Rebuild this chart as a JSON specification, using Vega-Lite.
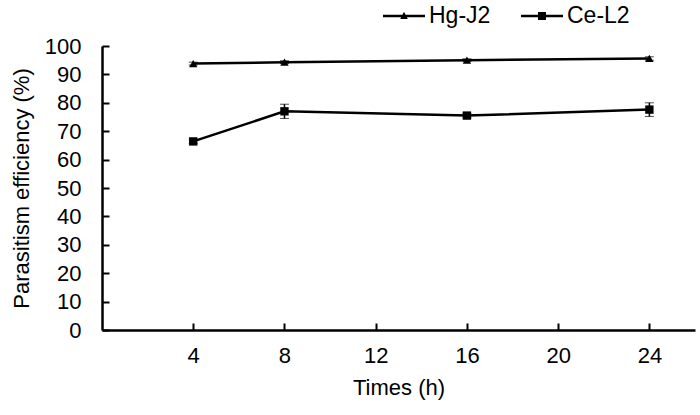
{
  "$schema": "https://vega.github.io/schema/vega-lite/v6.json",
  "width": 593,
  "height": 284,
  "autosize": "none",
  "padding": {"left": 102, "top": 46, "right": 5, "bottom": 85},
  "background": "white",
  "config": {
    "view": {"stroke": null},
    "font": "Liberation Sans",
    "axis": {
      "grid": false,
      "domainColor": "black",
      "domainWidth": 2.5,
      "tickColor": "black",
      "tickWidth": 2,
      "tickSize": -7,
      "labelColor": "black",
      "labelFont": "Liberation Sans",
      "labelFontSize": 22,
      "titleFont": "Liberation Sans",
      "titleFontSize": 22,
      "titleFontWeight": "normal",
      "titleColor": "black"
    }
  },
  "data": {
    "values": [
      {"series": "Hg-J2", "time": 4, "value": 93.8, "err": 0.5},
      {"series": "Hg-J2", "time": 8, "value": 94.3, "err": 0.5},
      {"series": "Hg-J2", "time": 16, "value": 95.0, "err": 0.5},
      {"series": "Hg-J2", "time": 24, "value": 95.6, "err": 0.6},
      {"series": "Ce-L2", "time": 4, "value": 66.4, "err": 0.8},
      {"series": "Ce-L2", "time": 8, "value": 77.0, "err": 2.5},
      {"series": "Ce-L2", "time": 16, "value": 75.5, "err": 0.8},
      {"series": "Ce-L2", "time": 24, "value": 77.6, "err": 2.4}
    ]
  },
  "encoding": {
    "x": {
      "field": "time", "type": "quantitative",
      "scale": {"domain": [0, 26], "nice": false, "zero": false},
      "axis": {"values": [4, 8, 12, 16, 20, 24], "title": "Times (h)", "labelPadding": 22, "titlePadding": 11}
    },
    "y": {
      "field": "value", "type": "quantitative",
      "scale": {"domain": [0, 100], "nice": false},
      "axis": {"values": [0, 10, 20, 30, 40, 50, 60, 70, 80, 90, 100], "title": "Parasitism efficiency (%)", "labelPadding": 28, "titlePadding": 11}
    }
  },
  "layer": [
    {
      "mark": {"type": "errorbar", "ticks": {"size": 9, "color": "black", "strokeWidth": 1.5}, "color": "black", "rule": {"strokeWidth": 1.5}},
      "encoding": {
        "yError": {"field": "err"},
        "detail": {"field": "series"}
      }
    },
    {
      "mark": {"type": "line", "color": "black", "strokeWidth": 2.5},
      "encoding": {"detail": {"field": "series"}}
    },
    {
      "mark": {"type": "point", "filled": true, "color": "black", "opacity": 1, "size": 70},
      "encoding": {
        "shape": {
          "field": "series", "type": "nominal",
          "scale": {"domain": ["Hg-J2", "Ce-L2"], "range": ["triangle-up", "square"]},
          "legend": null
        }
      }
    },
    {
      "mark": {"type": "point", "filled": true, "color": "black", "opacity": 0, "size": 10},
      "encoding": {
        "shape": {
          "field": "series", "type": "nominal",
          "scale": {"domain": ["Hg-J2", "Ce-L2"], "range": ["M-1,-0.06H1V0.06H-1ZM-0.18,0.14L0,-0.2L0.18,0.14Z", "M-1,-0.06H1V0.06H-1ZM-0.19,-0.19H0.19V0.19H-0.19Z"]},
          "legend": {
            "title": null,
            "orient": "none",
            "legendX": 281,
            "legendY": -51,
            "direction": "horizontal",
            "symbolSize": 1764,
            "symbolOpacity": 1,
            "symbolFillColor": "black",
            "symbolStrokeColor": "black",
            "symbolStrokeWidth": 0,
            "labelFontSize": 23,
            "labelColor": "black",
            "labelFont": "Liberation Sans",
            "labelOffset": 4,
            "columnPadding": 30,
            "encode": {
              "symbols": {
                "update": {
                  "fill": {"value": "black"},
                  "opacity": {"value": 1},
                  "fillOpacity": {"value": 1}
                }
              }
            }
          }
        }
      }
    }
  ],
  "resolve": {"scale": {"shape": "independent"}}
}
